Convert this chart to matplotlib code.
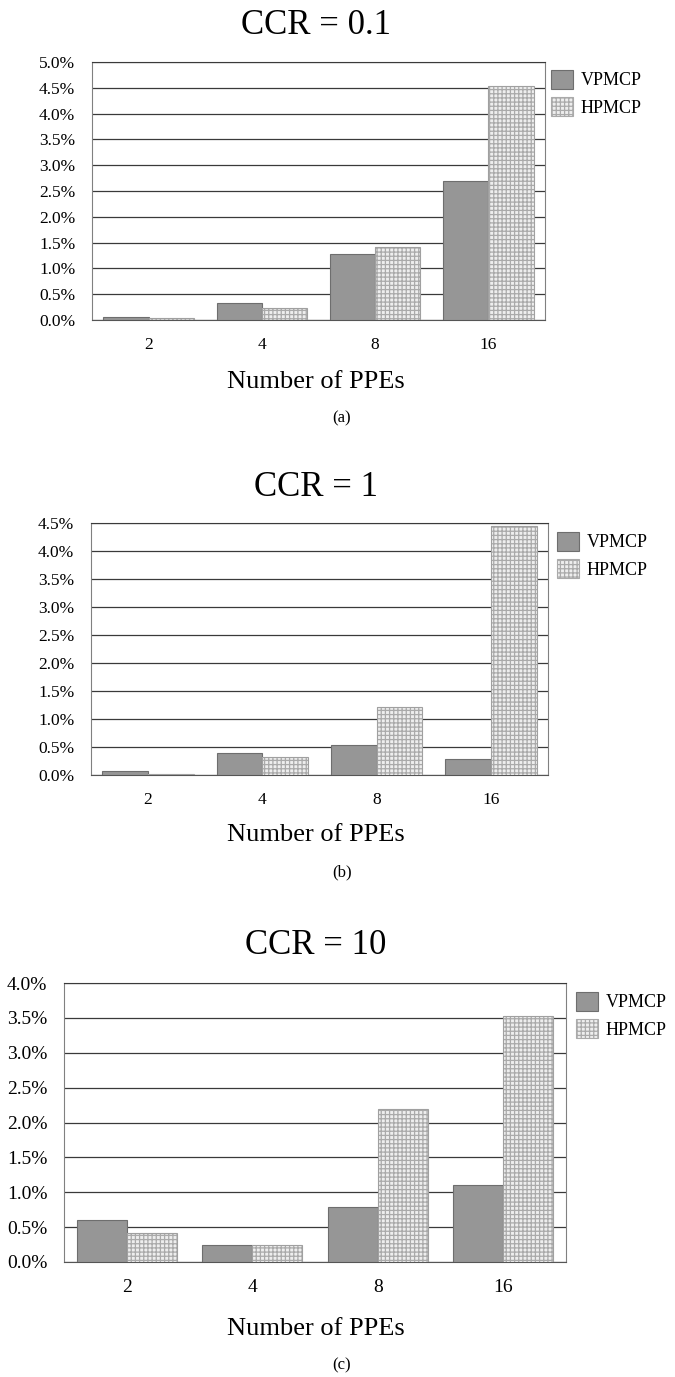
import numpy as np
import matplotlib
matplotlib.use('Agg')
import matplotlib.pyplot as plt
from matplotlib.patches import Patch
from matplotlib.ticker import PercentFormatter, MultipleLocator

plt.rcParams['font.family'] = ['Liberation Serif', 'DejaVu Serif']
plt.rcParams['hatch.linewidth'] = 0.9

# values (percent)
ppes = ['2', '4', '8', '16']
series = ['VPMCP', 'HPMCP']
vpmcp_01 = [0.05, 0.33, 1.28, 2.70]
hpmcp_01 = [0.04, 0.23, 1.42, 4.53]
vpmcp_1 = [0.08, 0.39, 0.54, 0.29]
hpmcp_1 = [0.02, 0.32, 1.21, 4.45]
vpmcp_10 = [0.60, 0.25, 0.79, 1.10]
hpmcp_10 = [0.41, 0.25, 2.20, 3.52]
titles = ['CCR = 0.1', 'CCR = 1', 'CCR = 10']
sublabels = ['(a)', '(b)', '(c)']
ymax = [5.0, 4.5, 4.0]

W, H = 675, 1377
fig = plt.figure(figsize=(W / 100, H / 100), dpi=100)

# pixel layout: axes left, right, top, bottom; title y, tick-label size, xlabel y, sublabel y, legend pos
panels = [
    dict(box=(92, 545, 62, 320), ty=25, fs=12.5, xl=382, sl=418, lg=(551, 70)),
    dict(box=(91, 548, 523, 775), ty=488, fs=12.5, xl=835, sl=872, lg=(557, 532)),
    dict(box=(64, 566, 983, 1262), ty=945, fs=14, xl=1329, sl=1365, lg=(576, 992)),
]
data = [(vpmcp_01, hpmcp_01), (vpmcp_1, hpmcp_1), (vpmcp_10, hpmcp_10)]

v_face, v_edge = '#969696', '#6e6e6e'
h_face, h_hatch, h_edge = '#eeeeee', '#aaaaaa', '#a0a0a0'

for i, p in enumerate(panels):
    l, r, t, b = p['box']
    ax = fig.add_axes([l / W, 1 - b / H, (r - l) / W, (b - t) / H])
    v, h = data[i]
    x = np.arange(len(ppes)) + 0.5
    w = 0.4
    ax.bar(x - w / 2, v, w, color=v_face, edgecolor=v_edge, linewidth=0.8, zorder=3)
    ax.bar(x + w / 2, h, w, color=h_face, edgecolor=h_hatch, hatch='++++', linewidth=0, zorder=3)
    ax.bar(x + w / 2, h, w, fill=False, edgecolor=h_edge, linewidth=0.8, zorder=4)

    ax.set_xlim(0, len(ppes))
    ax.set_ylim(0, ymax[i])
    ax.yaxis.set_major_locator(MultipleLocator(0.5))
    ax.yaxis.set_major_formatter(PercentFormatter(xmax=100, decimals=1))
    ax.set_xticks(x)
    ax.set_xticklabels(ppes)
    ax.tick_params(axis='both', length=0, labelsize=p['fs'])
    ax.tick_params(axis='y', pad=12)
    ax.tick_params(axis='x', pad=12)
    ax.grid(axis='y', color='#3a3a3a', linewidth=0.9)
    ax.set_axisbelow(True)
    for s in ['left', 'right']:
        ax.spines[s].set_color('#808080')
    ax.spines['top'].set_color('#3a3a3a')
    ax.spines['bottom'].set_color('#555555')

    cx = 316
    fig.text(cx / W, 1 - p['ty'] / H, titles[i], fontsize=25, ha='center', va='center')
    fig.text(cx / W, 1 - p['xl'] / H, 'Number of PPEs', fontsize=19, ha='center', va='center')
    fig.text(342 / W, 1 - p['sl'] / H, sublabels[i], fontsize=12, ha='center', va='center')

    handles = [Patch(facecolor=v_face, edgecolor=v_edge, linewidth=0.8),
               Patch(facecolor=h_face, edgecolor=h_hatch, hatch='++++', linewidth=0.8)]
    lx, ly = p['lg']
    fig.legend(handles, series, loc='upper left', bbox_to_anchor=(lx / W, 1 - ly / H),
               frameon=False, fontsize=13, handlelength=1.2, handleheight=1.2,
               handletextpad=0.45, labelspacing=0.45, borderpad=0, borderaxespad=0)

fig.savefig('out.png', dpi=100)
